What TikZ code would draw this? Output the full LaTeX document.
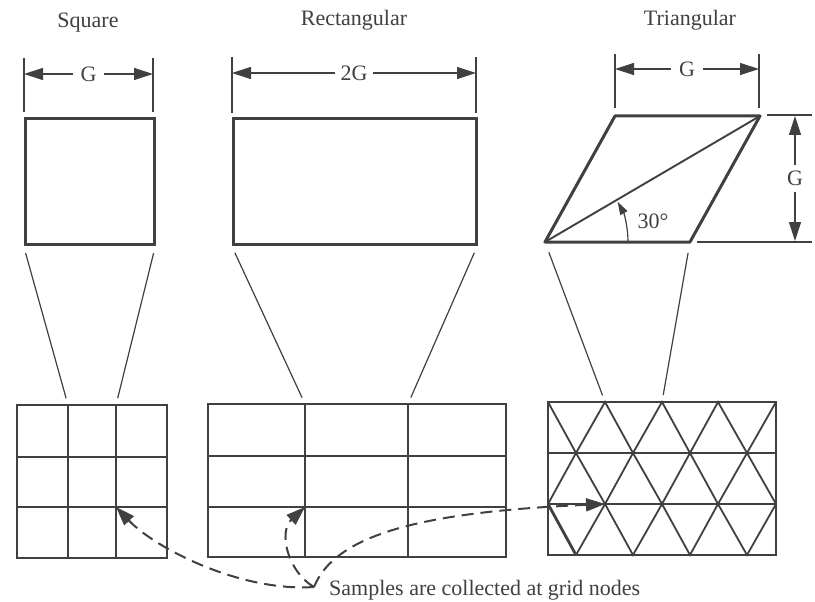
\documentclass[tikz,border=0pt]{standalone}
\usepackage{fontspec}
\setmainfont{Liberation Serif}
\usetikzlibrary{arrows.meta}
\definecolor{ink}{gray}{0.25}

\tikzset{
  frame/.style={draw=ink, line width=3pt, inner sep=0pt},
  gridline/.style={draw=ink, line width=1.8pt},
  thinline/.style={draw=ink, line width=1.2pt},
  dimline/.style={draw=ink, line width=1.2pt},
  dimarrow/.style={dimline, {Triangle[length=19pt,width=12pt]}-{Triangle[length=19pt,width=12pt]}},
  dimlabel/.style={fill=white, text=ink, inner xsep=8pt, inner ysep=2pt, font=\fontsize{22}{26}\selectfont},
  title/.style={text=ink, inner sep=0pt, font=\fontsize{22}{26}\selectfont},
  samplearrow/.style={draw=ink, line width=2pt, dash pattern=on 12pt off 7pt, -{Triangle[length=19pt,width=13pt]}},
}

\begin{document}
\begin{tikzpicture}[x=1pt, y=-1pt]
  \useasboundingbox[fill=white] (0,0) rectangle (815,602);

  % titles
  \node[title, anchor=base] (tsq) at (88,28) {Square};
  \node[title, anchor=base] (trect) at (354,26) {Rectangular};
  \node[title, anchor=base] (ttri) at (690,26) {Triangular};

  % top shapes
  \node[frame, minimum width=129pt, minimum height=125pt] (sqbox) at (89.5,181.5) {};
  \node[frame, minimum width=243pt, minimum height=125pt] (rectbox) at (354.5,181.5) {};

  \coordinate (tl) at (615,116);
  \coordinate (tr) at (760,116);
  \coordinate (bl) at (545,242);
  \coordinate (br) at (690,242);
  \draw[frame, line join=round] (bl) -- (br) -- (tr) -- (tl) -- cycle;
  \draw[ink, line width=1.9pt] (bl) -- (tr);
  \draw[dimline, -{Triangle[length=13pt,width=8pt]}] ([xshift=83pt]bl) arc[start angle=0, end angle=29, radius=83pt];
  \node[title] (ang) at (653,221) {30°};

  % dimensions
  \coordinate (sqdl) at (24,74);
  \coordinate (sqdr) at (153,74);
  \draw[dimline] (24,58) -- (24,112);
  \draw[dimline] (153,58) -- (153,112);
  \draw[dimarrow] (sqdl) -- (sqdr) node[midway, dimlabel] (gsq) {G};

  \coordinate (rdl) at (232,73);
  \coordinate (rdr) at (476,73);
  \draw[dimline] (232,57) -- (232,113);
  \draw[dimline] (476,57) -- (476,113);
  \draw[dimarrow] (rdl) -- (rdr) node[midway, dimlabel, inner xsep=6pt] (grect) {2G};

  \coordinate (tdl) at (615,69);
  \coordinate (tdr) at (759,69);
  \draw[dimline] (615,54) -- (615,108);
  \draw[dimline] (759,54) -- (759,108);
  \draw[dimarrow] (tdl) -- (tdr) node[midway, dimlabel] (gtri) {G};

  \coordinate (tdu) at (795,116);
  \coordinate (tdd) at (795,241);
  \draw[dimline] (767,115) -- (812,115);
  \draw[dimline] (697,242) -- (812,242);
  \draw[dimarrow] (tdu) -- (tdd) node[midway, dimlabel, inner xsep=2pt, inner ysep=6pt] (gside) {G};

  % grid points
  \coordinate (sqa) at (68,405);
  \coordinate (sqb) at (116,405);
  \coordinate (sqnode) at (116,507);
  \coordinate (ra) at (305,404);
  \coordinate (rb) at (408,404);
  \coordinate (rectnode) at (305,507);
  \coordinate (ta) at (605,402);
  \coordinate (tb) at (662,402);
  \coordinate (trinode) at (605,504);

  % zoom lines
  \draw[thinline, shorten <=8pt, shorten >=7pt] (sqbox.south west) -- (sqa);
  \draw[thinline, shorten <=8pt, shorten >=7pt] (sqbox.south east) -- (sqb);
  \draw[thinline, shorten <=8pt, shorten >=7pt] (rectbox.south west) -- (ra);
  \draw[thinline, shorten <=8pt, shorten >=7pt] (rectbox.south east) -- (rb);
  \draw[thinline, shorten <=11pt, shorten >=7pt] (bl) -- (ta);
  \draw[thinline, shorten <=11pt, shorten >=7pt] (br) -- (tb);

  % square grid
  \draw[gridline] (17,405) rectangle (167,558);
  \draw[gridline] (sqa) -- (68,558);
  \draw[gridline] (sqb) -- (116,558);
  \draw[gridline] (17,457) -- (167,457);
  \draw[gridline] (17,507) -- (167,507);

  % rectangular grid
  \draw[gridline] (208,404) rectangle (506,557);
  \draw[gridline] (ra) -- (305,557);
  \draw[gridline] (rb) -- (408,557);
  \draw[gridline] (208,456) -- (506,456);
  \draw[gridline] (208,507) -- (506,507);

  % triangular grid
  \draw[gridline] (548,402) rectangle (776,555);
  \draw[gridline] (548,453) -- (776,453);
  \draw[gridline] (548,504) -- (776,504);
  \draw[gridline] (548,402) -- (576,453) -- (605,402) -- (633,453) -- (662,402) -- (690,453) -- (718,402) -- (747,453) -- (776,402);
  \draw[gridline] (548,504) -- (576,453) -- (605,504) -- (633,453) -- (662,504) -- (690,453) -- (718,504) -- (747,453) -- (776,504);
  \draw[gridline] (605,504) -- (633,555) -- (662,504) -- (690,555) -- (718,504) -- (747,555) -- (776,504);
  \draw[gridline] (576,555) -- (605,504);
  \draw[ink, line width=2.8pt] (548,504) -- (576,555);

  % samples
  \node[title, anchor=base west] (note) at (329,595) {Samples are collected at grid nodes};
  \coordinate (src) at (314,587);
  \draw[samplearrow] (src) .. controls (240,592) and (155,548) .. (sqnode);
  \draw[samplearrow] (src) .. controls (288,572) and (278,532) .. (rectnode);
  \draw[samplearrow] (src) .. controls (335,535) and (420,512) .. (trinode);
\end{tikzpicture}
\end{document}
